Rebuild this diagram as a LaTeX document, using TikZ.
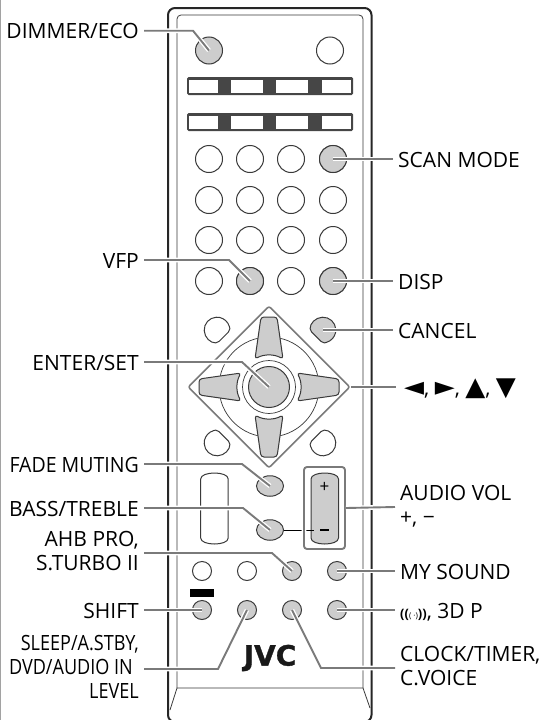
\documentclass[tikz,border=0pt]{standalone}
\usepackage{fontspec}
\setmainfont{Open Sans}
\newfontfamily\narrowfont{Open Sans}[FakeStretch=0.86]
\newfontfamily\midfont{Open Sans}[FakeStretch=0.93]
\newfontfamily\symfont{DejaVu Sans}
\newfontfamily\logofont{DejaVu Sans}[BoldFeatures={FakeBold=1.2}]
\usetikzlibrary{shapes.geometric,calc}
\definecolor{btnline}{HTML}{3A3A3A}
\definecolor{btngray}{HTML}{CDCDCD}
\definecolor{leadgray}{HTML}{7A7A7A}
\definecolor{stripdark}{HTML}{464646}
\newcommand{\lnst}{\rule[-4pt]{0pt}{24pt}}
\newcommand{\bigtri}[1]{{\fontsize{26}{24}\selectfont\symfont #1}}
\newcommand{\cutbtn}[3]{\draw[btnline,line width=1pt,fill=#3,rounded corners=2pt] ($(#1)+(#2+42:12.8)$) arc[start angle=#2+42,end angle=#2+318,radius=12.8] -- cycle;}
\tikzset{
  lbl/.style={font=\fontsize{21}{24}\selectfont,inner ysep=0pt,execute at begin node=\lnst,execute at end node=\lnst},
  lbll/.style={lbl,anchor=east,align=right,inner xsep=5pt},
  lblr/.style={lbl,anchor=west,align=left,inner xsep=5pt},
  btnw/.style={circle,draw=btnline,line width=1pt,fill=white,inner sep=0pt,minimum size=#1},
  btng/.style={btnw=#1,fill=btngray},
  ovalbtn/.style={ellipse,draw=btnline,line width=1pt,fill=btngray,inner sep=0pt,minimum width=27pt,minimum height=20.5pt},
  leader/.style={draw=leadgray,line width=1.9pt,preaction={draw=white,line width=4.6pt}},
}
\begin{document}
\begin{tikzpicture}[x=1pt,y=-1pt]
\useasboundingbox (0,0) rectangle (540,720);
\draw[leadgray!70,line width=1.4pt] (0.6,0) -- (0.6,720);
\draw[black!85,line width=2pt,rounded corners=7pt] (168,8) rectangle (371.5,722);
\draw[btnline,line width=0.8pt,rounded corners=4pt] (177,688) -- (177,15) -- (363,15) -- (363,688);
\draw[btnline,line width=0.8pt] (170,710) -- (177,688) -- (363,688) -- (370,708);
\foreach \y in {77,113} {
  \fill[stripdark,rounded corners=1.5pt] (187,\y) rectangle (353,\y+18);
  \foreach \a/\b in {189/218,231/263,276/308,322/351}
    \fill[white] (\a,\y+2.5) rectangle (\b,\y+15.5);
}
\node[btng=27pt] (dimmer) at (209,50.5) {};
\node[btnw=27pt] (topright) at (330,50.5) {};
\foreach \y/\r in {159/a,200/b,240/c,281/d}
  \foreach \x/\c in {209/1,250/2,291/3,333/4}
    \node[btnw=27pt] (key\r\c) at (\x,\y) {};
\node[btng=27pt] (scan) at (333,159) {};
\node[btng=27pt] (vfp) at (250,281) {};
\node[btng=27pt] (disp) at (333,281) {};
\node[diamond,draw=leadgray,line width=1.6pt,fill=white,rounded corners=2pt,aspect=1,inner sep=0pt,minimum width=162pt,minimum height=162pt] (pad) at (269,387) {};
\node[btnw=100pt,line width=0.7pt] (padring) at (269,387) {};
\foreach \ang in {0,90,180,270}
  \draw[btnline,line width=1pt,fill=btngray,rounded corners=3pt,shift={(269,387)},rotate=\ang] (28,-14) .. controls (33,-5) and (33,5) .. (28,14) -- (70,8) -- (70,-8) -- cycle;
\node[btnw=53pt,line width=0.7pt] (enterring) at (269,387) {};
\node[btng=41pt] (enter) at (269,387) {};
\coordinate (cutA) at (217,330);
\coordinate (cancel) at (323,330);
\coordinate (cutB) at (217,443);
\coordinate (cutC) at (323,443);
\cutbtn{cutA}{45}{white}
\cutbtn{cancel}{135}{btngray}
\cutbtn{cutB}{315}{white}
\cutbtn{cutC}{225}{white}
\foreach \x/\f in {200.7/white,311/btngray}
  \draw[btnline,line width=1pt,fill=\f] (\x,479) .. controls (\x,471) and (\x+27.5,471) .. (\x+27.5,479) -- (\x+27.5,538) .. controls (\x+27.5,546) and (\x,546) .. (\x,538) -- cycle;
\node[ovalbtn] (fade) at (270,486) {};
\node[ovalbtn] (bass) at (270,530) {};
\coordinate (minusend) at (314,530);
\draw[black,line width=0.7pt] (bass.east) -- (minusend);
\node[draw=leadgray,line width=1.9pt,rounded corners=3pt,inner sep=0pt,minimum width=41pt,minimum height=82pt,preaction={draw=white,line width=4.6pt}] (volbox) at (324.5,508) {};
\draw[black,line width=0.7pt] (310,530) -- (minusend);
\node[font=\fontsize{17}{17}\selectfont,inner sep=0pt] (plus) at (324.5,487) {+};
\node[fill=black,inner sep=0pt,minimum width=9pt,minimum height=1.8pt] (minus) at (324.5,530) {};
\node[btnw=19pt] (low1) at (202,571) {};
\node[btnw=19pt] (low2) at (247,571) {};
\node[btng=19pt] (ahb) at (292,571) {};
\node[btng=19pt] (mysound) at (337,571) {};
\node[btng=19pt] (shift) at (202,610) {};
\node[btng=19pt] (sleep) at (247,610) {};
\node[btng=19pt] (clock) at (292,610) {};
\node[btng=19pt] (threed) at (337,610) {};
\node[fill=black,inner sep=0pt,minimum width=24pt,minimum height=8pt] (shiftbar) at (202,593) {};
\node[font=\fontsize{28}{28}\selectfont\logofont\bfseries,text=black!90,inner sep=0pt] (jvc) at (270,658) {JVC};
\node[lbll] (lblDimmer) at (144,30.7) {DIMMER/ECO};
\node[lbll] (lblVfp) at (144,260) {VFP};
\node[lbll] (lblEnter) at (144,362) {ENTER/SET};
\node[lbll] (lblFade) at (144,464) {\midfont FADE MUTING};
\node[lbll] (lblBass) at (144,508) {BASS/TREBLE};
\node[lbll] (lblAhb) at (144,553) {AHB PRO,\\S.TURBO II};
\node[lbll] (lblShift) at (144,610) {SHIFT};
\node[lbll] (lblSleep) at (144,669) {\narrowfont SLEEP/A.STBY,\\\narrowfont DVD/AUDIO IN\kern6pt\\\narrowfont LEVEL};
\node[lblr] (lblScan) at (393,159) {SCAN MODE};
\node[lblr] (lblDisp) at (393,281) {DISP};
\node[lblr] (lblCancel) at (393,330) {CANCEL};
\node[lblr] (lblArrows) at (396,387) {\kern3pt\bigtri{◄}, \bigtri{►}, \bigtri{▲}, \bigtri{▼}};
\node[lblr] (lblVol) at (395,507) {AUDIO VOL\\+, −};
\node[lblr] (lblSound) at (395,571) {MY SOUND};
\node[lblr] (lblThreed) at (395,610) {{\fontsize{13}{13}\selectfont\bfseries ((\fontsize{8}{8}\selectfont\mdseries ( ·)\fontsize{13}{13}\selectfont\bfseries ))}, 3D P};
\node[lblr] (lblClock) at (395,668) {CLOCK/TIMER,\\C.VOICE};
\draw[leader] (lblDimmer.east) -- (193,30.7) -- (dimmer.center);
\draw[leader] (scan.center) -- (lblScan.west);
\draw[leader] (lblVfp.east) -- (229,260) -- (vfp.center);
\draw[leader] (disp.center) -- (lblDisp.west);
\draw[leader] (cancel) -- (lblCancel.west);
\draw[leader] (lblEnter.east) -- (242,362) -- (enter.center);
\draw[leader] (pad.east) -- (lblArrows.west);
\draw[leader] (lblFade.east) -- (242,464) -- (fade.center);
\draw[leader] (lblBass.east) -- (243,508) -- (bass.center);
\draw[leader] (volbox.east) -- (lblVol.west);
\draw[leader] (lblAhb.east) -- (272,553) -- (ahb.center);
\draw[leader] (mysound.center) -- (lblSound.west);
\draw[leader] (lblShift.east) -- (shift.center);
\draw[leader] (threed.center) -- (lblThreed.west);
\draw[leader] (lblSleep.east) -- (218,669) -- (sleep.center);
\draw[leader] (clock.center) -- (321,668) -- (lblClock.west);
\end{tikzpicture}
\end{document}
